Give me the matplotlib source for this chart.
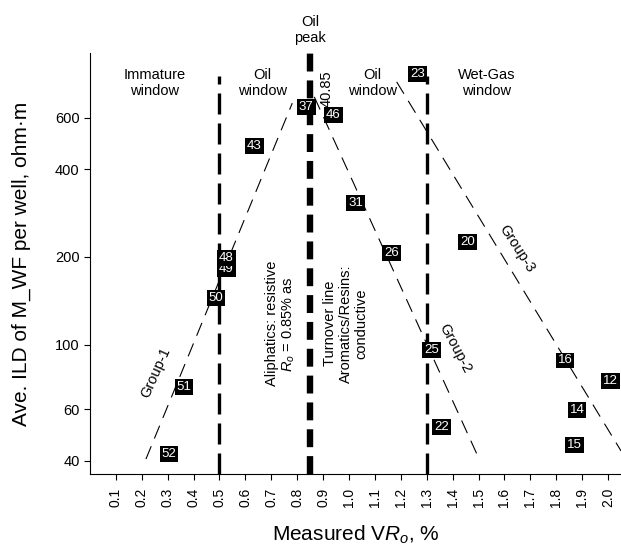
import numpy as np
import matplotlib
matplotlib.use("Agg")
import matplotlib.pyplot as plt

plt.rcParams['font.family'] = ['Liberation Sans', 'DejaVu Sans']
plt.rcParams['mathtext.fontset'] = 'custom'
plt.rcParams['mathtext.rm'] = 'Liberation Sans'
plt.rcParams['mathtext.it'] = 'Liberation Sans:italic'

# well labels and their positions (VRo %, ILD ohm.m)
well_ids = ['52', '51', '50', '49', '48', '43', '37', '46', '31', '26',
            '25', '22', '23', '20', '16', '12', '14', '15']
vro = [0.305, 0.363, 0.487, 0.526, 0.526, 0.634, 0.835, 0.940, 1.025, 1.164,
       1.319, 1.358, 1.265, 1.458, 1.834, 2.008, 1.880, 1.869]
ild = [42.1, 71.3, 144.7, 181.6, 198, 481, 654, 614, 305, 206,
       96.1, 52.1, 849, 225, 88.2, 75.3, 59.5, 45.2]

# trend lines of the three groups
group1_x = [0.216, 0.781]
group1_y = [40.5, 673]
group2_x = [0.866, 1.497]
group2_y = [707, 41.5]
group3_x = [1.184, 2.05]
group3_y = [796, 43.2]

# maturity boundaries
boundary_x = [0.5, 1.3]
peak_x = 0.85

xticks = [round(0.1 * i, 1) for i in range(1, 21)]
yticks = [40, 60, 100, 200, 400, 600]

fig = plt.figure(figsize=(6.21, 5.45), dpi=100)
ax = fig.add_axes([0.1449, 0.1303, 0.8551, 0.7725])
ax.set_yscale('log')
ax.set_xlim(0, 2.05)
ax.set_ylim(36, 1000)

# vertical boundaries
for bx in boundary_x:
    ax.plot([bx, bx], [36, 835], color='black', lw=2.4,
            linestyle=(0, (6.3, 2.7)), zorder=2)
ax.plot([peak_x, peak_x], [36, 1000], color='black', lw=4.6,
        linestyle=(0, (2.8, 1.4)), zorder=2, clip_on=False)

# group trend lines
for gx, gy in [(group1_x, group1_y), (group2_x, group2_y), (group3_x, group3_y)]:
    ax.plot(gx, gy, color='black', lw=0.8, linestyle=(0, (12.5, 7.5)), zorder=2)

# wells
for lab, x, y in zip(well_ids, vro, ild):
    ax.text(x, y, lab, color='white', fontsize=9.5, ha='center', va='center',
            zorder=5, bbox=dict(boxstyle='square,pad=0.15', fc='black', ec='black', lw=0))

# window labels
fs = 10.5
ls = 1.15
ax.text(0.25, 790, 'Immature\nwindow', ha='center', va='center', fontsize=fs, linespacing=ls)
ax.text(0.665, 790, 'Oil\nwindow', ha='center', va='center', fontsize=fs, linespacing=ls)
ax.text(1.09, 790, 'Oil\nwindow', ha='center', va='center', fontsize=fs, linespacing=ls)
ax.text(1.53, 790, 'Wet-Gas\nwindow', ha='center', va='center', fontsize=fs, linespacing=ls)
ax.text(0.85, 1.055, 'Oil\npeak', transform=ax.get_xaxis_transform(),
        ha='center', va='center', fontsize=fs, linespacing=ls)
ax.text(0.913, 754, '40.85', rotation=90, ha='center', va='center', fontsize=fs)

ax.text(0.739, 118, 'Aliphatics: resistive\n$R_o$ = 0.85% as', rotation=90,
        ha='center', va='center', fontsize=fs, linespacing=1.12)
ax.text(0.987, 118, 'Turnover line\nAromatics/Resins:\nconductive', rotation=90,
        ha='center', va='center', fontsize=fs, linespacing=1.12)

ax.text(0.255, 80, 'Group-1', rotation=66, ha='center', va='center', fontsize=fs)
ax.text(1.408, 97, 'Group-2', rotation=-62, ha='center', va='center', fontsize=fs)
ax.text(1.648, 214, 'Group-3', rotation=-57, ha='center', va='center', fontsize=fs)

ax.set_xticks(xticks)
ax.set_xticklabels([f'{t:.1f}' for t in xticks], rotation=90, fontsize=10)
ax.set_yticks(yticks)
ax.set_yticklabels([str(t) for t in yticks], fontsize=10.5)
ax.yaxis.set_minor_locator(matplotlib.ticker.NullLocator())
ax.tick_params(direction='out', length=4, width=0.8)
ax.tick_params(axis='x', pad=6)

ax.spines['top'].set_visible(False)
ax.spines['right'].set_visible(False)

ax.set_xlabel('Measured V$R_o$, %', fontsize=15)
ax.set_ylabel('Ave. ILD of M_WF per well, ohm·m', fontsize=15)
ax.xaxis.set_label_coords(0.5, -0.118)
ax.yaxis.set_label_coords(-0.112, 0.5)

fig.savefig('out.png', dpi=100)
